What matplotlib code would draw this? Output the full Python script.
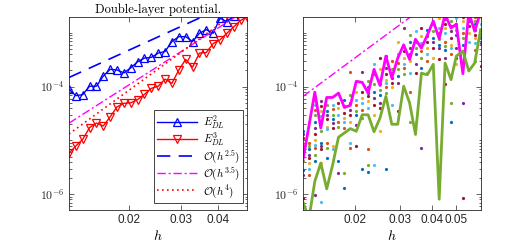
import matplotlib
matplotlib.use('Agg')
import matplotlib.pyplot as plt
import numpy as np
from matplotlib.ticker import FixedLocator, FuncFormatter, LogLocator, NullFormatter, NullLocator
from matplotlib.lines import Line2D

plt.rcParams['mathtext.fontset'] = 'cm'
plt.rcParams['font.family'] = ['Liberation Sans', 'DejaVu Sans']
plt.rcParams['font.size'] = 8

# ---------------- data ----------------
h = [0.01250, 0.01319, 0.01391, 0.01468, 0.01549, 0.01634, 0.01723, 0.01818,
     0.01918, 0.02024, 0.02135, 0.02252, 0.02376, 0.02507, 0.02645, 0.02790,
     0.02944, 0.03106, 0.03277, 0.03457, 0.03647, 0.03847, 0.04059, 0.04282,
     0.04518, 0.04766, 0.05000, 0.05305, 0.05596, 0.05904, 0.06229]

E2_DL = [8.9e-5, 6.8e-5, 7.1e-5, 1.02e-4, 1.02e-4, 1.58e-4, 2.1e-4, 2.04e-4,
         1.8e-4, 2.24e-4, 2.9e-4, 3.4e-4, 3.5e-4, 4.2e-4, 4.5e-4, 6.9e-4,
         8.5e-4, 8.5e-4, 6.9e-4, 9.8e-4, 1.15e-3, 9.8e-4, 1.86e-3, 1.62e-3,
         2.04e-3, 2.3e-3, 2.6e-3]

E3_DL = [5.8e-6, 7.9e-6, 1.05e-5, 1.74e-5, 2.1e-5, 1.86e-5, 2.75e-5, 4.2e-5,
         4.9e-5, 5.0e-5, 5.75e-5, 7.2e-5, 9.3e-5, 1.02e-4, 1.38e-4, 1.15e-4,
         2.04e-4, 3.2e-4, 2.3e-4, 4.2e-4, 4.3e-4, 6.3e-4, 7.4e-4, 9.8e-4,
         1.29e-3, 1.7e-3, 1.95e-3]

# reference slopes and their values at the smallest h
ref_orders_left = [2.5, 3.5, 4.0]
ref_anchor_left = [1.48e-4, 2.1e-5, 1.32e-5]
ref_order_right = 3.5
ref_anchor_right = 6.6e-5

E_max = [4.4e-6, 1.86e-5, 7.9e-5, 1.7e-5, 6.3e-5, 6.3e-5, 7.6e-5, 4.1e-5,
         4.5e-5, 1.26e-4, 1.2e-4, 7.6e-5, 2.1e-4, 1.05e-4, 3.7e-4, 1.45e-4,
         3.4e-4, 6.0e-4, 3.2e-4, 7.6e-4, 5.2e-4, 9.1e-4, 1.66e-3, 7.8e-4,
         2.2e-3, 1.23e-3, 1.45e-3, 1.74e-4, 2.4e-3, 1.07e-3, 2.5e-3]

E_min = [7.2e-7, 3.5e-7, 1.74e-6, 3.8e-6, 1.26e-6, 3.5e-6, 1.15e-5, 1.38e-5,
         1.66e-5, 1.48e-5, 3.0e-5, 3.0e-5, 1.45e-5, 2.6e-5, 6.6e-5, 2.0e-5,
         2.0e-5, 1.02e-4, 5.0e-5, 1.29e-5, 1.78e-4, 1.66e-4, 2.6e-4, 8.1e-7,
         2.75e-4, 1.35e-4, 3.7e-4, 4.6e-4, 1.95e-4, 2.75e-4, 1.15e-3]

E_samples = [
    [1.5e-5, 1.3e-5, 1.1e-5, 8.3e-6, 7.2e-6, 6.3e-6, 4.1e-6, 2.8e-6, 2.3e-6, 8.5e-7, 5.9e-7],
    [8.9e-6, 7.8e-6, 6.8e-6, 5.4e-6, 4.7e-6, 3.8e-6, 3.0e-6, 2.3e-6],
    [5.5e-5, 4.6e-5, 3.7e-5, 3.0e-5, 2.2e-5, 1.7e-5, 1.3e-5, 1.0e-5, 8.3e-6, 7.2e-6, 5.4e-6, 4.1e-6, 9.8e-7],
    [5.5e-5, 4.3e-5, 3.5e-5, 2.8e-5, 2.1e-5, 1.5e-5, 8.9e-6, 7.8e-6, 6.8e-6, 3.8e-6, 7.2e-7],
    [4.6e-5, 3.5e-5, 3.0e-5, 2.5e-5, 1.8e-5, 1.6e-5, 8.9e-6, 7.2e-6, 4.7e-6],
    [4.6e-5, 3.9e-5, 3.0e-5, 2.5e-5, 2.1e-5, 1.7e-5, 7.8e-6, 6.8e-6],
    [5.0e-5, 4.0e-5, 3.0e-5, 2.2e-5, 1.8e-5, 4.1e-6, 2.5e-6],
    [5.7e-5, 4.3e-5, 3.2e-5, 2.6e-5, 2.2e-5, 1.7e-5, 2.5e-6, 1.3e-6],
    [1.9e-4, 7.1e-5, 5.0e-5, 3.7e-5, 3.0e-5, 2.2e-5, 8.9e-6, 7.2e-6],
    [8.1e-5, 5.7e-5, 4.6e-5, 3.5e-5, 3.0e-5, 1.9e-5, 7.8e-6],
    [1.9e-4, 8.1e-5, 6.2e-5, 5.0e-5, 3.7e-5, 2.6e-5, 3.0e-6],
    [1.26e-4, 1.0e-4, 7.6e-5, 6.6e-5, 5.4e-5, 4.0e-5, 6.8e-6, 3.5e-6, 2.6e-6],
    [2.6e-4, 1.7e-4, 1.1e-4, 8.1e-5, 6.2e-5, 4.6e-5, 3.0e-5, 3.5e-6],
    [3.4e-4, 2.1e-4, 1.35e-4, 1.1e-4, 8.7e-5, 7.1e-5, 5.0e-5, 4.0e-5, 1.5e-5],
    [3.7e-4, 2.2e-4, 1.7e-4, 1.35e-4, 1.17e-4, 1.0e-4, 7.6e-5, 3.0e-6],
    [2.95e-4, 2.1e-4, 1.8e-4, 1.45e-4, 1.17e-4, 1.0e-4, 4.6e-5],
    [6.9e-4, 4.0e-4, 2.75e-4, 2.1e-4, 1.55e-4, 1.17e-4, 3.5e-5],
    [1.23e-3, 4.6e-4, 3.4e-4, 2.6e-4, 2.2e-4, 1.7e-4],
    [9.3e-4, 6.9e-4, 5.2e-4, 4.0e-4, 2.95e-4, 1.8e-4, 8.1e-5, 2.2e-5],
    [1.07e-3, 6.9e-4, 5.2e-4, 4.0e-4, 2.6e-4, 1.8e-4, 2.2e-5],
    [1.23e-3, 8.7e-4, 6.5e-4, 4.6e-4, 3.4e-4, 2.2e-4, 7.2e-6],
    [1.15e-3, 8.7e-4, 6.9e-4, 5.2e-4, 4.0e-4, 2.95e-4, 1.8e-4],
    [1.45e-3, 1.07e-3, 8.1e-4, 6.9e-4, 5.2e-4, 3.4e-4],
    [1.9e-3, 1.23e-3, 1.0e-3, 7.6e-4, 6.0e-4, 5.2e-4, 3.2e-4],
    [1.8e-3, 1.45e-3, 1.23e-3, 1.0e-3, 6.9e-4, 5.6e-4, 4.9e-4, 3.4e-4, 1.1e-4],
    [1.66e-3, 1.32e-3, 1.07e-3, 8.1e-4, 6.0e-4, 5.2e-4, 4.0e-4, 5.0e-5, 2.2e-5],
    [1.9e-3, 1.45e-3, 1.15e-3, 9.3e-4, 5.2e-4, 3.4e-4, 2.6e-4],
    [1.95e-3, 1.66e-3, 1.23e-3, 1.0e-3, 8.1e-4, 6.0e-4, 5.0e-5, 8.5e-7],
    [1.95e-3, 1.66e-3, 1.32e-3, 1.0e-3, 6.9e-4],
    [1.95e-3, 1.66e-3, 1.45e-3, 1.15e-3, 9.3e-4, 8.1e-4, 6.5e-4, 4.9e-4, 2.95e-4],
    [1.95e-3, 1.45e-3, 1.15e-3, 9.3e-4, 8.1e-4, 6.5e-4, 2.4e-4],
]

xticks_left = [0.02, 0.03, 0.04]
xticks_right = [0.02, 0.03, 0.04, 0.05]
yticks = [1e-6, 1e-4]
title_text = 'Double-layer potential.'
legend_labels = [r'$E^2_{DL}$', r'$E^3_{DL}$', r'$\mathcal{O}(h^{2.5})$',
                 r'$\mathcal{O}(h^{3.5})$', r'$\mathcal{O}(h^{4})$']

# ---------------- style ----------------
matlab_colors = [(0, 0.447, 0.741), (0.85, 0.325, 0.098), (0.929, 0.694, 0.125),
                 (0.494, 0.184, 0.556), (0.466, 0.674, 0.188), (0.301, 0.745, 0.933),
                 (0.635, 0.078, 0.184)]
axis_col = '#262626'

fig = plt.figure(figsize=(5.32, 2.48), dpi=100)
ax1 = fig.add_axes([69 / 532, 38 / 248, 177.7 / 532, 193 / 248])
ax2 = fig.add_axes([303 / 532, 38 / 248, 178 / 532, 193 / 248])

h = np.array(h)
nL = len(E2_DL)
hL = h[:nL]

ref_styles = [dict(color='blue', ls=(0, (8, 5)), lw=1.2),
              dict(color='magenta', ls=(0, (6, 2, 1.5, 2)), lw=1.0),
              dict(color='red', ls=(0, (1, 2)), lw=1.2)]

ax1.plot(hL, E2_DL, color='blue', lw=1.0, marker='^', ms=5.5, mfc='none', mew=0.9)
ax1.plot(hL, E3_DL, color='red', lw=1.0, marker='v', ms=5.5, mfc='none', mew=0.9)
for p, a, st in zip(ref_orders_left, ref_anchor_left, ref_styles):
    ax1.plot(hL, a * (hL / hL[0]) ** p, **st)

handles = [Line2D([], [], color='blue', lw=1.0, marker='^', ms=5.5, mfc='none', mew=0.9),
           Line2D([], [], color='red', lw=1.0, marker='v', ms=5.5, mfc='none', mew=0.9)] + \
          [Line2D([], [], **st) for st in ref_styles]
leg = ax1.legend(handles, legend_labels, loc='lower right', bbox_to_anchor=(0.98, 0.036),
                 borderaxespad=0, fontsize=8, handlelength=3.6, handletextpad=0.5,
                 labelspacing=0.0, borderpad=0.3, fancybox=False, framealpha=1)
leg.get_frame().set_edgecolor(axis_col)
leg.get_frame().set_linewidth(0.6)

# right panel
for k, col in enumerate(E_samples):
    for i, v in enumerate(col):
        ax2.plot(h[k], v, marker='o', ms=2.3, mew=0,
                 color=matlab_colors[(i * 3 + k) % 7], ls='none')
ax2.plot(h, E_max, color='magenta', lw=2.0)
ax2.plot(h, E_min, color=matlab_colors[4], lw=2.0)
ax2.plot(h, ref_anchor_right * (h / h[0]) ** ref_order_right, color='magenta',
         ls=(0, (6, 2, 1.5, 2)), lw=1.0)

ytick_fmt = FuncFormatter(lambda v, pos: r'$\mathsf{10^{%d}}$' % int(round(np.log10(v))))
for ax, xt, xl in [(ax1, xticks_left, (0.0125, 0.05)), (ax2, xticks_right, (0.0125, 0.0625))]:
    ax.set_xscale('log')
    ax.set_yscale('log')
    ax.set_xlim(*xl)
    ax.set_ylim(5.1e-7, 1.97e-3)
    ax.xaxis.set_major_locator(FixedLocator(xt))
    ax.xaxis.set_major_formatter(FuncFormatter(lambda v, pos: '%.2f' % v))
    ax.xaxis.set_minor_locator(NullLocator())
    ax.yaxis.set_major_locator(FixedLocator(yticks))
    ax.yaxis.set_major_formatter(ytick_fmt)
    ax.yaxis.set_minor_locator(LogLocator(base=10, subs=np.arange(1, 10), numticks=20))
    ax.yaxis.set_minor_formatter(NullFormatter())
    ax.tick_params(which='both', direction='in', top=True, right=True, colors=axis_col,
                   width=0.5, labelsize=8.5, labelcolor='#262626')
    ax.tick_params(which='major', length=3.5, pad=3)
    ax.tick_params(which='minor', length=1.8)
    for s in ax.spines.values():
        s.set_color(axis_col)
        s.set_linewidth(0.6)
    ax.set_xlabel(r'$h$', fontsize=10, labelpad=2)

ax1.set_title(title_text, family='cmr10', fontsize=9, pad=3)

fig.savefig('out.png', dpi=100)
